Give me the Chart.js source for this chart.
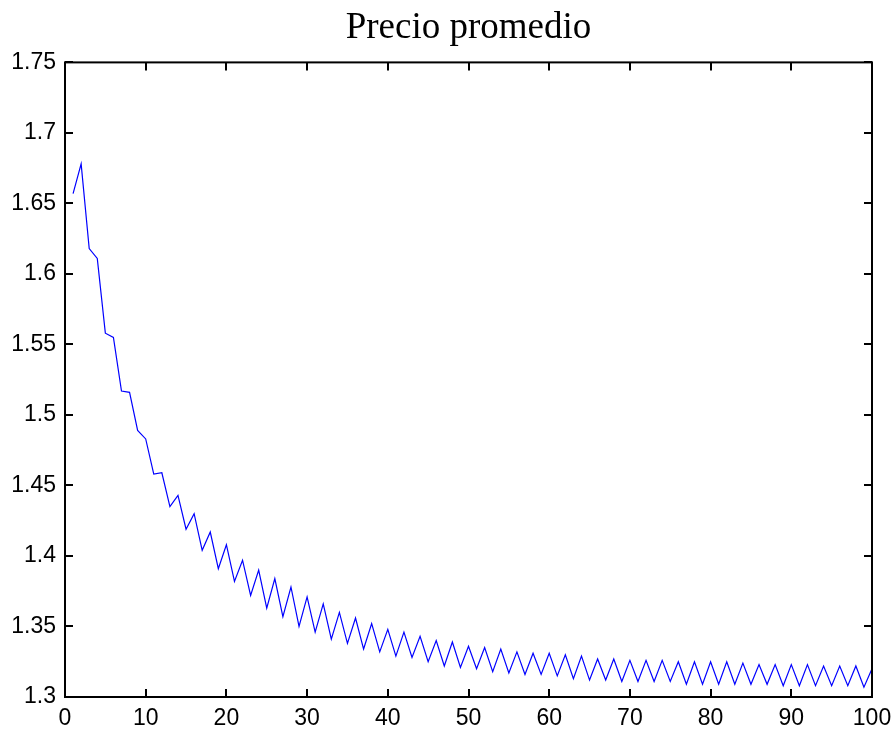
<!DOCTYPE html>
<html>
<head>
<meta charset="utf-8">
<title>Precio promedio</title>
<script src="https://cdn.jsdelivr.net/npm/chart.js@4.4.1/dist/chart.umd.min.js"></script>
<style>
    body { margin: 0; background: #fff; }
    #wrap { width: 894px; height: 731px; }
</style>
</head>
<body>
<div id="wrap"><canvas id="price-chart" width="894" height="731"></canvas></div>
<script>
// Iterations (x axis)
const iterations = [
    1, 2, 3, 4, 5, 6, 7, 8, 9, 10, 11, 12, 13, 14, 15, 16, 17, 18, 19, 20,
    21, 22, 23, 24, 25, 26, 27, 28, 29, 30, 31, 32, 33, 34, 35, 36, 37, 38, 39, 40,
    41, 42, 43, 44, 45, 46, 47, 48, 49, 50, 51, 52, 53, 54, 55, 56, 57, 58, 59, 60,
    61, 62, 63, 64, 65, 66, 67, 68, 69, 70, 71, 72, 73, 74, 75, 76, 77, 78, 79, 80,
    81, 82, 83, 84, 85, 86, 87, 88, 89, 90, 91, 92, 93, 94, 95, 96, 97, 98, 99, 100
];

// Average price per iteration
const avgPrice = [
    1.657, 1.678, 1.618, 1.611, 1.558, 1.555, 1.517, 1.516, 1.489, 1.483,
    1.458, 1.459, 1.435, 1.443, 1.419, 1.430, 1.404, 1.417, 1.391, 1.408,
    1.382, 1.397, 1.372, 1.390, 1.363, 1.384, 1.357, 1.378, 1.350, 1.371,
    1.346, 1.366, 1.341, 1.360, 1.338, 1.356, 1.334, 1.352, 1.332, 1.348,
    1.329, 1.346, 1.328, 1.343, 1.325, 1.340, 1.322, 1.339, 1.321, 1.336,
    1.320, 1.335, 1.318, 1.334, 1.317, 1.332, 1.316, 1.331, 1.316, 1.331,
    1.315, 1.330, 1.313, 1.329, 1.312, 1.327, 1.312, 1.327, 1.311, 1.326,
    1.311, 1.326, 1.311, 1.326, 1.311, 1.325, 1.309, 1.325, 1.309, 1.325,
    1.309, 1.325, 1.309, 1.324, 1.309, 1.323, 1.309, 1.323, 1.308, 1.323,
    1.308, 1.323, 1.308, 1.322, 1.308, 1.322, 1.308, 1.322, 1.307, 1.320
];

// Tick values
const xTicks = [0, 10, 20, 30, 40, 50, 60, 70, 80, 90, 100];
const yTicks = [1.3, 1.35, 1.4, 1.45, 1.5, 1.55, 1.6, 1.65, 1.7, 1.75];

const tickFont = { family: "'Liberation Sans', Arial, sans-serif", size: 23 };

function setTicks(values) {
    return function(scale) {
        scale.ticks = values.map(v => ({ value: v }));
    };
}

// Fix the axis size and drop the label overflow padding
function fixSize(prop, size) {
    return function(scale) {
        scale[prop] = size;
        scale.paddingLeft = 0;
        scale.paddingRight = 0;
        scale.paddingTop = 0;
        scale.paddingBottom = 0;
    };
}

// Box and inward tick marks, MATLAB style
const boxPlugin = {
    id: 'boxPlugin',
    afterDraw(chart) {
        const ctx = chart.ctx;
        const area = chart.chartArea;
        const xs = chart.scales.x;
        const ys = chart.scales.y;
        const len = 8;
        ctx.save();
        ctx.strokeStyle = '#000';
        ctx.lineWidth = 2;
        ctx.strokeRect(area.left, area.top, area.right - area.left, area.bottom - area.top);
        ctx.beginPath();
        xTicks.forEach(v => {
            const px = Math.round(xs.getPixelForValue(v));
            ctx.moveTo(px, area.bottom);
            ctx.lineTo(px, area.bottom - len);
            ctx.moveTo(px, area.top);
            ctx.lineTo(px, area.top + len);
        });
        yTicks.forEach(v => {
            const py = Math.round(ys.getPixelForValue(v));
            ctx.moveTo(area.left, py);
            ctx.lineTo(area.left + len, py);
            ctx.moveTo(area.right, py);
            ctx.lineTo(area.right - len, py);
        });
        ctx.stroke();
        ctx.restore();
    }
};

const ctx = document.getElementById('price-chart').getContext('2d');
new Chart(ctx, {
    type: 'line',
    data: {
        datasets: [{
            label: 'Precio promedio',
            data: iterations.map((it, i) => ({ x: it, y: avgPrice[i] })),
            borderColor: '#0000ff',
            borderWidth: 1.2,
            pointRadius: 0,
            tension: 0,
            fill: false
        }]
    },
    options: {
        responsive: false,
        animation: false,
        layout: { padding: 0 },
        plugins: {
            legend: { display: false },
            tooltip: { enabled: false },
            title: {
                display: true,
                fullSize: false,
                text: 'Precio promedio',
                color: '#000',
                font: { family: "'Liberation Serif', 'Times New Roman', serif", size: 37, weight: 'normal', lineHeight: 1.2 },
                padding: { top: 6, bottom: 0 }
            }
        },
        scales: {
            x: {
                type: 'linear',
                position: 'bottom',
                min: 0,
                max: 100,
                afterBuildTicks: setTicks(xTicks),
                afterFit: fixSize('height', 34),
                grid: { display: false, drawTicks: false },
                border: { display: false },
                ticks: { color: '#000', font: tickFont, padding: 8, maxRotation: 0, autoSkip: false }
            },
            xTop: {
                type: 'linear',
                position: 'top',
                min: 0,
                max: 100,
                afterFit: fixSize('height', 12),
                grid: { display: false, drawTicks: false },
                border: { display: false },
                ticks: { display: false }
            },
            y: {
                type: 'linear',
                position: 'left',
                min: 1.3,
                max: 1.75,
                afterBuildTicks: setTicks(yTicks),
                afterFit: fixSize('width', 65),
                grid: { display: false, drawTicks: false },
                border: { display: false },
                ticks: {
                    color: '#000',
                    font: tickFont,
                    padding: 9,
                    autoSkip: false,
                    callback: v => String(Number(v.toFixed(2)))
                }
            },
            yRight: {
                type: 'linear',
                position: 'right',
                min: 1.3,
                max: 1.75,
                afterFit: fixSize('width', 22),
                grid: { display: false, drawTicks: false },
                border: { display: false },
                ticks: { display: false }
            }
        }
    },
    plugins: [boxPlugin]
});
</script>
</body>
</html>
